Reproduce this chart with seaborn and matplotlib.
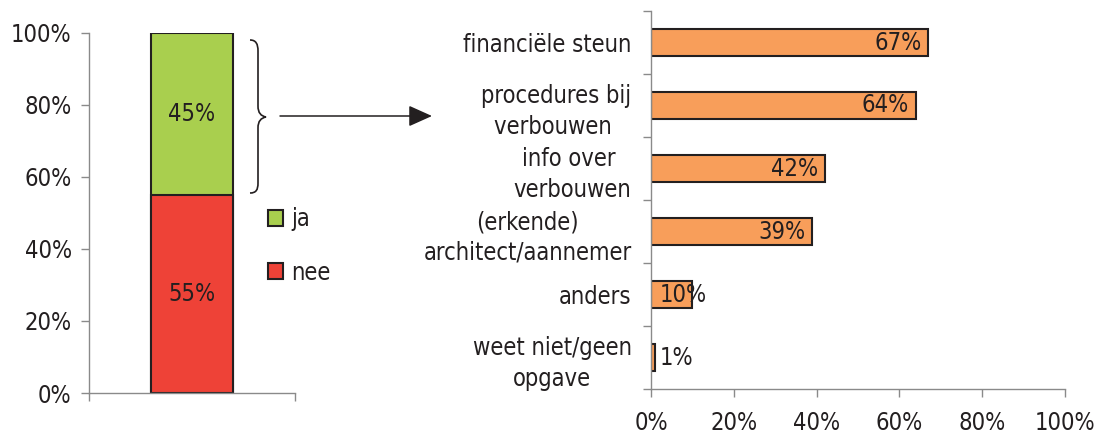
import numpy as np
import matplotlib
matplotlib.use("Agg")
from matplotlib import pyplot as plt
from matplotlib.path import Path
from matplotlib.patches import PathPatch, FancyArrowPatch, Patch
import seaborn as sns

# data
answers = ["ja", "nee"]
answer_pct = [45, 55]
help_labels = ["financiële steun", "procedures bij\nverbouwen ", "info over \nverbouwen",
               "(erkende)\narchitect/aannemer", "anders", "weet niet/geen\nopgave"]
help_pct = [67, 64, 42, 39, 10, 1]
pct_ticks = [0, 20, 40, 60, 80, 100]

GREEN = "#A9CF4E"
RED = "#EE4237"
ORANGE = "#F89E5A"
DARK = "#231F20"
GREY = "#8A8A8A"

sns.set_style("ticks")
plt.rcParams["font.family"] = ["DejaVu Sans"]
plt.rcParams["font.stretch"] = "condensed"
plt.rcParams["text.color"] = DARK
FS = 17

W, H = 1099, 436
fig = plt.figure(figsize=(W / 100, H / 100), dpi=100)


def fx(x):
    return x / W


def fy(y):
    return 1 - y / H


# left: stacked bar ja / nee
ax1 = fig.add_axes([fx(89), fy(393), fx(295) - fx(89), fy(33) - fy(393)])
sns.barplot(x=[""], y=[sum(answer_pct)], color=GREEN, edgecolor=DARK, linewidth=1.5,
            width=0.4, saturation=1, ax=ax1)
sns.barplot(x=[""], y=[answer_pct[1]], color=RED, edgecolor=DARK, linewidth=1.5,
            width=0.4, saturation=1, ax=ax1)
ax1.set_xlim(-0.5, 0.5)
ax1.set_ylim(0, 100)
ax1.set_yticks(pct_ticks)
ax1.set_yticklabels([f"{t}%" for t in pct_ticks])
ax1.set_xticks([-0.5, 0.5])
ax1.set_xticklabels(["", ""])
ax1.set_xlabel("")
ax1.set_ylabel("")
ax1.text(0, answer_pct[1] + answer_pct[0] / 2, f"{answer_pct[0]}%", ha="center",
         va="center", fontsize=FS, color=DARK)
ax1.text(0, answer_pct[1] / 2, f"{answer_pct[1]}%", ha="center", va="center",
         fontsize=FS, color=DARK)

handles = [Patch(facecolor=GREEN, edgecolor=DARK, linewidth=1.5),
           Patch(facecolor=RED, edgecolor=DARK, linewidth=1.5)]
fig.legend(handles, answers, loc="upper left", bbox_to_anchor=(fx(268), fy(207)),
           frameon=False, fontsize=FS, handlelength=0.65, handleheight=0.65,
           handletextpad=0.35, labelspacing=1.25, borderaxespad=0, borderpad=0)

# right: horizontal bars
ax2 = fig.add_axes([fx(651), fy(389), fx(1065) - fx(651), fy(11) - fy(389)])
sns.barplot(x=help_pct, y=help_labels, orient="h", color=ORANGE, edgecolor=DARK,
            linewidth=1.5, width=0.42, saturation=1, ax=ax2)
ax2.set_xlim(0, 100)
ax2.set_ylim(len(help_labels) - 0.5, -0.5)
ax2.set_xticks(pct_ticks)
ax2.set_xticklabels([f"{t}%" for t in pct_ticks])
ax2.set_yticks(np.arange(len(help_labels)))
ax2.set_yticklabels(help_labels, multialignment="center", linespacing=1.35)
ax2.set_yticks(np.arange(len(help_labels) + 1) - 0.5, minor=True)
ax2.tick_params(axis="y", which="major", length=0, pad=14)
ax2.tick_params(axis="y", which="minor", length=5.5, width=1, color=GREY)
ax2.set_xlabel("")
ax2.set_ylabel("")
for i, v in enumerate(help_pct):
    if v > 20:
        ax2.annotate(f"{v}%", xy=(v, i), xytext=(-5, 0), textcoords="offset points",
                     ha="right", va="center", fontsize=FS, color=DARK)
    else:
        ax2.annotate(f"{v}%", xy=(0, i), xytext=(6.5, 0), textcoords="offset points",
                     ha="left", va="center", fontsize=FS, color=DARK)

for ax in (ax1, ax2):
    sns.despine(ax=ax)
    for s in ("left", "bottom"):
        ax.spines[s].set_color(GREY)
        ax.spines[s].set_linewidth(1)
    ax.tick_params(which="major", labelsize=FS, colors=GREY, labelcolor=DARK)
    ax.tick_params(axis="x", length=5.5, width=1)
ax1.tick_params(axis="y", length=5.5, width=1, pad=7)
ax2.tick_params(axis="x", pad=10)

# brace + arrow between the two charts (pixel coords)
brace = [(250, 40), (256, 40), (258, 44), (258, 51), (258, 106),
         (258, 113), (261, 116), (266, 117),
         (261, 118), (258, 121), (258, 128), (258, 183),
         (258, 190), (256, 193), (250, 193)]
codes = [Path.MOVETO, Path.CURVE4, Path.CURVE4, Path.CURVE4, Path.LINETO,
         Path.CURVE4, Path.CURVE4, Path.CURVE4,
         Path.CURVE4, Path.CURVE4, Path.CURVE4, Path.LINETO,
         Path.CURVE4, Path.CURVE4, Path.CURVE4]
brace_path = Path([(fx(x), fy(y)) for x, y in brace], codes)
fig.add_artist(PathPatch(brace_path, facecolor="none", edgecolor=DARK, linewidth=1.2,
                         transform=fig.transFigure))
fig.add_artist(FancyArrowPatch((fx(280), fy(116)), (fx(432), fy(116)),
                               transform=fig.transFigure,
                               arrowstyle="-|>,head_length=1.45,head_width=0.65",
                               mutation_scale=10, shrinkA=0, shrinkB=0,
                               color=DARK, linewidth=1.1))

fig.savefig("out.png", dpi=100)
